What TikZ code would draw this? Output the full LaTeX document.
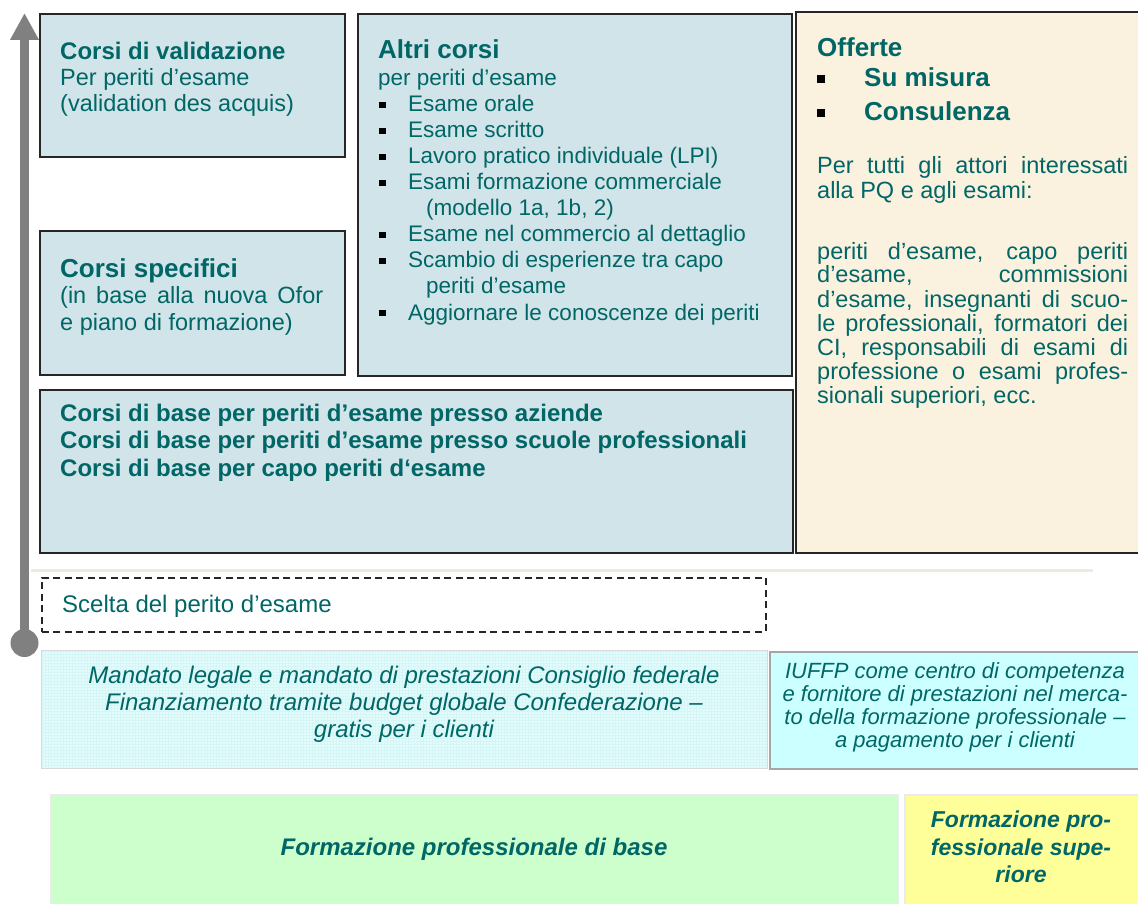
\documentclass[tikz,border=0pt]{standalone}
\usepackage{fontspec}
\setmainfont{Liberation Sans}
\usepackage{graphicx}
\usetikzlibrary{arrows.meta}
\definecolor{tealtxt}{RGB}{0,102,102}
\definecolor{boxfill}{RGB}{209,228,233}
\definecolor{creamfill}{RGB}{251,241,223}
\definecolor{mandfill}{RGB}{228,251,251}
\definecolor{mandgrid}{RGB}{212,246,246}
\definecolor{iufill}{RGB}{204,255,255}
\definecolor{greenfill}{RGB}{204,255,204}
\definecolor{yellowfill}{RGB}{255,255,153}
\definecolor{arrowgray}{RGB}{128,128,128}
\definecolor{beige}{RGB}{238,235,222}
\newcommand{\fsz}[1]{\fontsize{#1}{#1}\selectfont}
\begin{document}
\begin{tikzpicture}[x=1pt,y=-1pt,
  box/.style={draw=black!85, line width=2pt, fill=boxfill, inner sep=0, anchor=north west},
  txt/.style={anchor=base west, inner sep=0, text=tealtxt, font=\fsz{23.5}},
  ctxt/.style={anchor=base, inner sep=0, text=tealtxt},
  bul/.style={fill=black, minimum size=6.5pt, inner sep=0, draw=none},
  bigbul/.style={fill=black, minimum size=7.5pt, inner sep=0, draw=none}]
\useasboundingbox (0,0) rectangle (1138,904);

% main boxes
\node[box, minimum width=305pt, minimum height=143pt] (val) at (39,13) {};
\node[box, minimum width=305pt, minimum height=144pt] (spec) at (39,230) {};
\node[box, minimum width=434pt, minimum height=362pt] (altri) at (357,13) {};
\node[box, minimum width=753pt, minimum height=163pt] (base) at (39,389) {};
\node[box, fill=creamfill, minimum width=350pt, minimum height=541pt] (off) at (795,11) {};

% separator line and dashed box
\coordinate (sepl) at (31,570);
\coordinate (sepr) at (1093,570);
\draw[beige, line width=3pt] (sepl) -- (sepr);
\node[draw=black!85, line width=1.6pt, dash pattern=on 7pt off 4.5pt, inner sep=0, anchor=north west,
      minimum width=724pt, minimum height=54pt] (scelta) at (41,577) {};

% mandate boxes
\fill[mandfill] (41,650) rectangle (767,768);
\draw[mandgrid, line width=0.25pt, step=3pt] (41,650) grid (767,768);
\node[draw=black!15, line width=1.2pt, inner sep=0, anchor=north west,
      minimum width=726pt, minimum height=118pt] (mand) at (41,650) {};
\node[draw=black!35, fill=iufill, line width=1.5pt, inner sep=0, anchor=north west,
      minimum width=375pt, minimum height=117pt] (iuffp) at (769,651) {};

% bottom boxes
\node[draw=black!8, fill=greenfill, line width=1.5pt, inner sep=0, anchor=north west,
      minimum width=847pt, minimum height=115pt] (fbase) at (50,794) {};
\node[draw=black!8, fill=yellowfill, line width=1.5pt, inner sep=0, anchor=north west,
      minimum width=240pt, minimum height=115pt] (fsup) at (904,794) {};

% arrow
\coordinate (arrbot) at (24.5,643);
\coordinate (arrtop) at (24.5,13);
\draw[arrowgray, line width=9pt, -{Triangle[width=27pt,length=27pt]}] (arrbot) -- (arrtop);
\fill[arrowgray] (arrbot) circle (14pt);

% Corsi di validazione
\node[txt, font=\fsz{24}\bfseries] (val1) at (60,60) {Corsi di validazione};
\node[txt] (val2) at (60,86) {Per periti d’esame};
\node[txt] (val3) at (60,112) {(validation des acquis)};

% Corsi specifici
\node[txt, font=\fsz{26}\bfseries] (spec1) at (60,277) {Corsi specifici};
\node[txt] (spec2) at (60,303) {\makebox[263pt][s]{(in base alla nuova Ofor}};
\node[txt] (spec3) at (60,330) {e piano di formazione)};

% Altri corsi
\node[txt, font=\fsz{26}\bfseries] (alt1) at (378,59) {Altri corsi};
\node[txt, font=\fsz{22.5}] (alt2) at (378,86) {per periti d’esame};
\foreach \y/\t/\n in {112/Esame orale/a, 138/Esame scritto/b, 164/Lavoro pratico individuale (LPI)/c,
  190/Esami formazione commerciale/d, 242/Esame nel commercio al dettaglio/e,
  268/Scambio di esperienze tra capo/f, 320/Aggiornare le conoscenze dei periti/g}{
  \node[bul] (bu\n) at (382.5,\y-7) {};
  \node[txt, font=\fsz{22.5}] (it\n) at (408,\y) {\t};
}
\node[txt, font=\fsz{22.5}] (itd2) at (426,216) {(modello 1a, 1b, 2)};
\node[txt, font=\fsz{22.5}] (itf2) at (426,294) {periti d’esame};

% Offerte
\node[txt, font=\fsz{26}\bfseries] (off1) at (817,57) {Offerte};
\node[bigbul] (bo1) at (821,79) {};
\node[txt, font=\fsz{26}\bfseries] (off2) at (864,87) {Su misura};
\node[bigbul] (bo2) at (821,113) {};
\node[txt, font=\fsz{26}\bfseries] (off3) at (864,121) {Consulenza};
\node[txt] (op1) at (817,174) {\makebox[311pt][s]{Per tutti gli attori interessati}};
\node[txt] (op2) at (817,199) {alla PQ e agli esami:};
\node[txt] (op3) at (817,259) {\makebox[311pt][s]{periti d’esame, capo periti}};
\node[txt] (op4) at (817,283) {\makebox[311pt][s]{d’esame, commissioni}};
\node[txt] (op5) at (817,307) {\makebox[311pt][s]{d’esame, insegnanti di scuo-}};
\node[txt] (op6) at (817,331) {\makebox[311pt][s]{le professionali, formatori dei}};
\node[txt] (op7) at (817,355) {\makebox[311pt][s]{CI, responsabili di esami di}};
\node[txt] (op8) at (817,379) {\makebox[311pt][s]{professione o esami profes-}};
\node[txt] (op9) at (817,403) {sionali superiori, ecc.};

% Corsi di base
\node[txt, font=\fsz{24}\bfseries] (b1) at (60,421) {Corsi di base per periti d’esame presso aziende};
\node[txt, font=\fsz{24}\bfseries] (b2) at (60,448) {Corsi di base per periti d’esame presso scuole professionali};
\node[txt, font=\fsz{24}\bfseries] (b3) at (60,476) {Corsi di base per capo periti d‘esame};

% Scelta
\node[txt, font=\fsz{24}] (sc) at (62,612) {Scelta del perito d’esame};

% Mandato
\node[ctxt, font=\fsz{24}\itshape] (m1) at (404,683) {Mandato legale e mandato di prestazioni Consiglio federale};
\node[ctxt, font=\fsz{24}\itshape] (m2) at (404,710) {Finanziamento tramite budget globale Confederazione –};
\node[ctxt, font=\fsz{24}\itshape] (m3) at (404,737) {gratis per i clienti};

% IUFFP
\node[ctxt, font=\fsz{22}\itshape] (i1) at (955,678) {IUFFP come centro di competenza};
\node[ctxt, font=\fsz{22}\itshape] (i2) at (955,701) {e fornitore di prestazioni nel merca-};
\node[ctxt, font=\fsz{22}\itshape] (i3) at (955,724) {to della formazione professionale –};
\node[ctxt, font=\fsz{22}\itshape] (i4) at (955,747) {a pagamento per i clienti};

% bottom labels
\node[ctxt, font=\fsz{24}\bfseries\itshape] (fb) at (474,855) {Formazione professionale di base};
\node[ctxt, font=\fsz{23}\bfseries\itshape] (fs1) at (1021,827) {Formazione pro-};
\node[ctxt, font=\fsz{23}\bfseries\itshape] (fs2) at (1021,855) {fessionale supe-};
\node[ctxt, font=\fsz{23}\bfseries\itshape] (fs3) at (1021,882) {riore};
\end{tikzpicture}
\end{document}
